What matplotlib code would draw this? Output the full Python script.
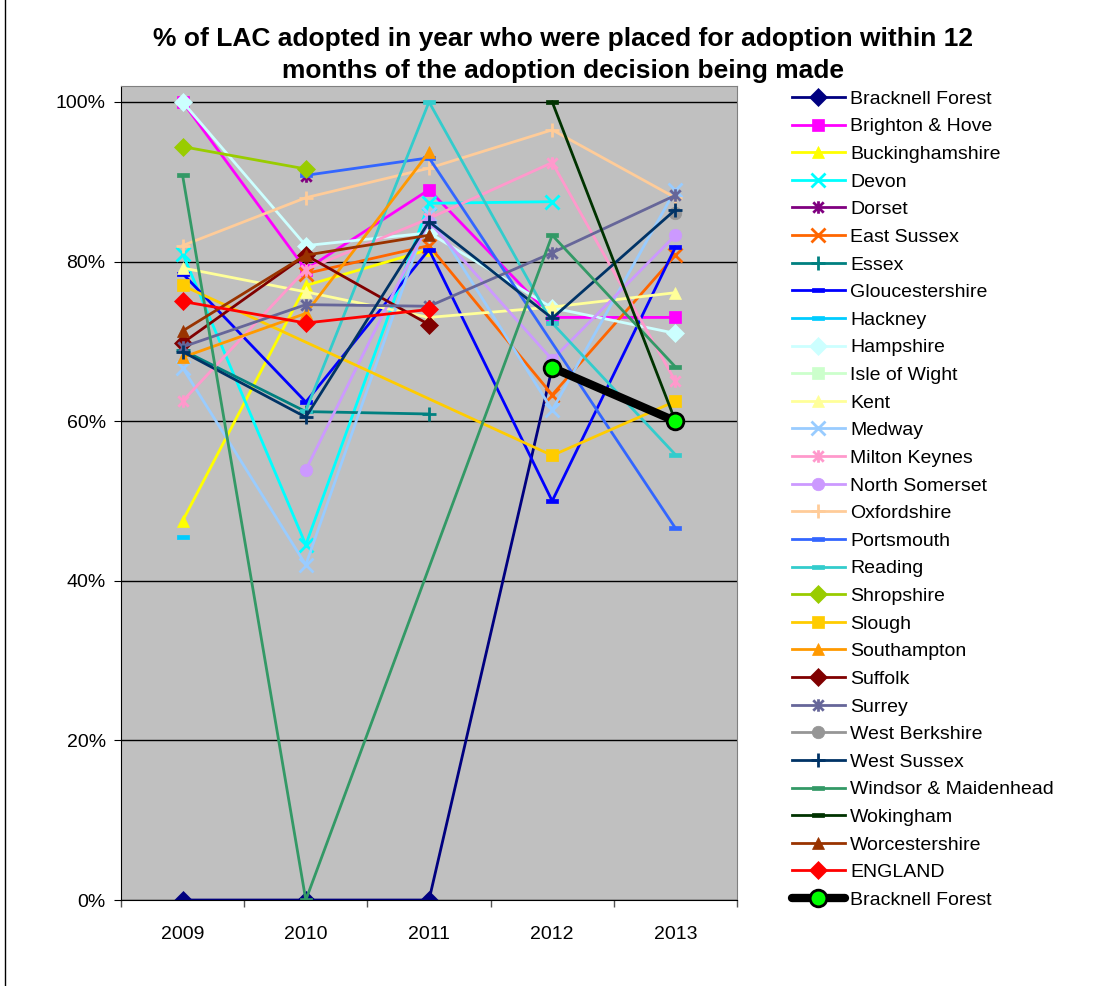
import numpy as np
import matplotlib
matplotlib.use('Agg')
import matplotlib.pyplot as plt
from matplotlib.ticker import PercentFormatter, FixedLocator, NullFormatter
from matplotlib.lines import Line2D
from matplotlib.path import Path

plt.rcParams['font.family'] = ['Liberation Sans', 'DejaVu Sans']

years = ['2009', '2010', '2011', '2012', '2013']
nan = np.nan

# % placed within 12 months, per authority (nan = no figure that year)
bracknell_forest = [0, 0, 0, 66.7, 60]
brighton_hove = [100, 79, 89, 73, 73]
buckinghamshire = [47.5, 77, 81.5, nan, nan]
devon = [81, 44.5, 87.3, 87.5, nan]
dorset = [nan, 90.7, nan, nan, nan]
east_sussex = [nan, 78.5, 82, 63.3, 80.8]
essex = [68.9, 61.2, 60.9, nan, nan]
gloucestershire = [78.5, 62.4, 81.5, 50, 81.8]
hackney = [45.5, nan, nan, nan, nan]
hampshire = [100, 82, 83.6, 74.2, 71]
isle_of_wight = [nan, nan, nan, nan, nan]
kent = [79.2, 76.2, 73, 74.3, 76.1]
medway = [66.7, 42, 86, 61.4, 89]
milton_keynes = [62.5, 79, 85.4, 92.4, 65]
north_somerset = [nan, 53.9, 85, 67.7, 83.3]
oxfordshire = [82, 88, 91.7, 96.5, 88]
portsmouth = [nan, 90.8, 93, nan, 46.6]
reading = [nan, 61.3, 100, 72.3, 55.8]
shropshire = [94.4, 91.6, nan, nan, nan]
slough = [77, nan, nan, 55.7, 62.5]
southampton = [68, 73.5, 93.7, nan, nan]
suffolk = [69.8, 80.8, 72.1, nan, nan]
surrey = [69.3, 74.6, 74.4, 81.1, 88.3]
west_berkshire = [nan, nan, nan, nan, 86.1]
west_sussex = [68.7, 60.5, 85, 72.9, 86.5]
windsor_maidenhead = [90.8, 0, nan, 83.3, 66.8]
wokingham = [nan, nan, nan, 100, 60]
worcestershire = [71.3, 80.8, 83.3, nan, nan]
england = [75, 72.3, 74, nan, nan]
bracknell_highlight = [nan, nan, nan, 66.7, 60]

# Excel-like marker shapes: star = x with a vertical bar, dash = short thick bar
star = Path([(-1, -1), (1, 1), (-1, 1), (1, -1), (0, -1.2), (0, 1.2)],
            [Path.MOVETO, Path.LINETO] * 3)
dash = [(-1, -0.32), (1, -0.32), (1, 0.32), (-1, 0.32), (-1, -0.32)]

series = [
    ('Bracknell Forest', bracknell_forest, '#000080', 'D'),
    ('Brighton & Hove', brighton_hove, '#FF00FF', 's'),
    ('Buckinghamshire', buckinghamshire, '#FFFF00', '^'),
    ('Devon', devon, '#00FFFF', 'x'),
    ('Dorset', dorset, '#800080', star),
    ('East Sussex', east_sussex, '#FF6600', 'x'),
    ('Essex', essex, '#008080', '+'),
    ('Gloucestershire', gloucestershire, '#0000FF', dash),
    ('Hackney', hackney, '#00CCFF', dash),
    ('Hampshire', hampshire, '#CCFFFF', 'D'),
    ('Isle of Wight', isle_of_wight, '#CCFFCC', 's'),
    ('Kent', kent, '#FFFF99', '^'),
    ('Medway', medway, '#99CCFF', 'x'),
    ('Milton Keynes', milton_keynes, '#FF99CC', star),
    ('North Somerset', north_somerset, '#CC99FF', 'o'),
    ('Oxfordshire', oxfordshire, '#FFCC99', '+'),
    ('Portsmouth', portsmouth, '#3366FF', dash),
    ('Reading', reading, '#33CCCC', dash),
    ('Shropshire', shropshire, '#99CC00', 'D'),
    ('Slough', slough, '#FFCC00', 's'),
    ('Southampton', southampton, '#FF9900', '^'),
    ('Suffolk', suffolk, '#800000', 'D'),
    ('Surrey', surrey, '#666699', star),
    ('West Berkshire', west_berkshire, '#969696', 'o'),
    ('West Sussex', west_sussex, '#003366', '+'),
    ('Windsor & Maidenhead', windsor_maidenhead, '#339966', dash),
    ('Wokingham', wokingham, '#003300', dash),
    ('Worcestershire', worcestershire, '#993300', '^'),
    ('ENGLAND', england, '#FF0000', 'D'),
]

fig = plt.figure(figsize=(11.01, 9.86), dpi=100)
ax = fig.add_axes([0.1099, 0.0872, 0.5595, 0.8256])
ax.set_facecolor('#C0C0C0')

x = np.arange(len(years))
handles = []
for name, vals, col, mk in series:
    v = np.array(vals, dtype=float) / 100
    ok = ~np.isnan(v)
    open_mk = mk is star or mk in ('x', '+')
    if mk is star:
        ms = 9
    elif mk is dash:
        ms = 8
    elif mk in ('x', '+'):
        ms = 10
    else:
        ms = 9
    kw = dict(color=col, lw=2, marker=mk, markersize=ms,
              markerfacecolor=col if not open_mk else 'none', markeredgecolor=col,
              markeredgewidth=2 if open_mk else 0.5)
    ax.plot(x[ok], v[ok], **kw)
    handles.append(Line2D([], [], label=name, **kw))

hv = np.array(bracknell_highlight, dtype=float) / 100
ok = ~np.isnan(hv)
hkw = dict(color='black', lw=6, marker='o', markersize=12,
           markerfacecolor='#00FF00', markeredgecolor='black', markeredgewidth=2)
ax.plot(x[ok], hv[ok], solid_capstyle='round', **hkw)
handles.append(Line2D([], [], label='Bracknell Forest', solid_capstyle='round', **hkw))

ax.set_xlim(-0.5, len(years) - 0.5)
ax.set_ylim(0, 1.02)
ax.yaxis.set_major_locator(FixedLocator([0, 0.2, 0.4, 0.6, 0.8, 1.0]))
ax.yaxis.set_major_formatter(PercentFormatter(1.0, decimals=0))
ax.grid(axis='y', color='black', lw=1)
ax.set_axisbelow(True)

ax.xaxis.set_major_locator(FixedLocator(np.arange(-0.5, len(years), 1.0)))
ax.xaxis.set_major_formatter(NullFormatter())
ax.xaxis.set_minor_locator(FixedLocator(x))
ax.set_xticklabels(years, minor=True)
ax.tick_params(axis='x', which='minor', length=0, labelsize=14, pad=19)
ax.tick_params(axis='x', which='major', length=5, width=1, color='#555555')
ax.tick_params(axis='y', length=5, labelsize=14, pad=6)

for s in ['top', 'right']:
    ax.spines[s].set_color('#808080')
for s in ['left', 'bottom']:
    ax.spines[s].set_color('black')

fig.text(0.511, 0.973, '% of LAC adopted in year who were placed for adoption within 12\n'
         'months of the adoption decision being made',
         ha='center', va='top', fontsize=19, fontweight='bold', linespacing=1.45)

fig.legend(handles=handles, loc='upper left', bbox_to_anchor=(0.7155, 0.9125),
           frameon=False, fontsize=14, handlelength=2.75, handletextpad=0.25,
           labelspacing=0.515, borderaxespad=0, borderpad=0.2)

# chart frame
fig.add_artist(plt.Line2D([0.0045, 0.0045], [0, 1], color='black', lw=1,
                          transform=fig.transFigure))

fig.savefig('out.png', dpi=100)
